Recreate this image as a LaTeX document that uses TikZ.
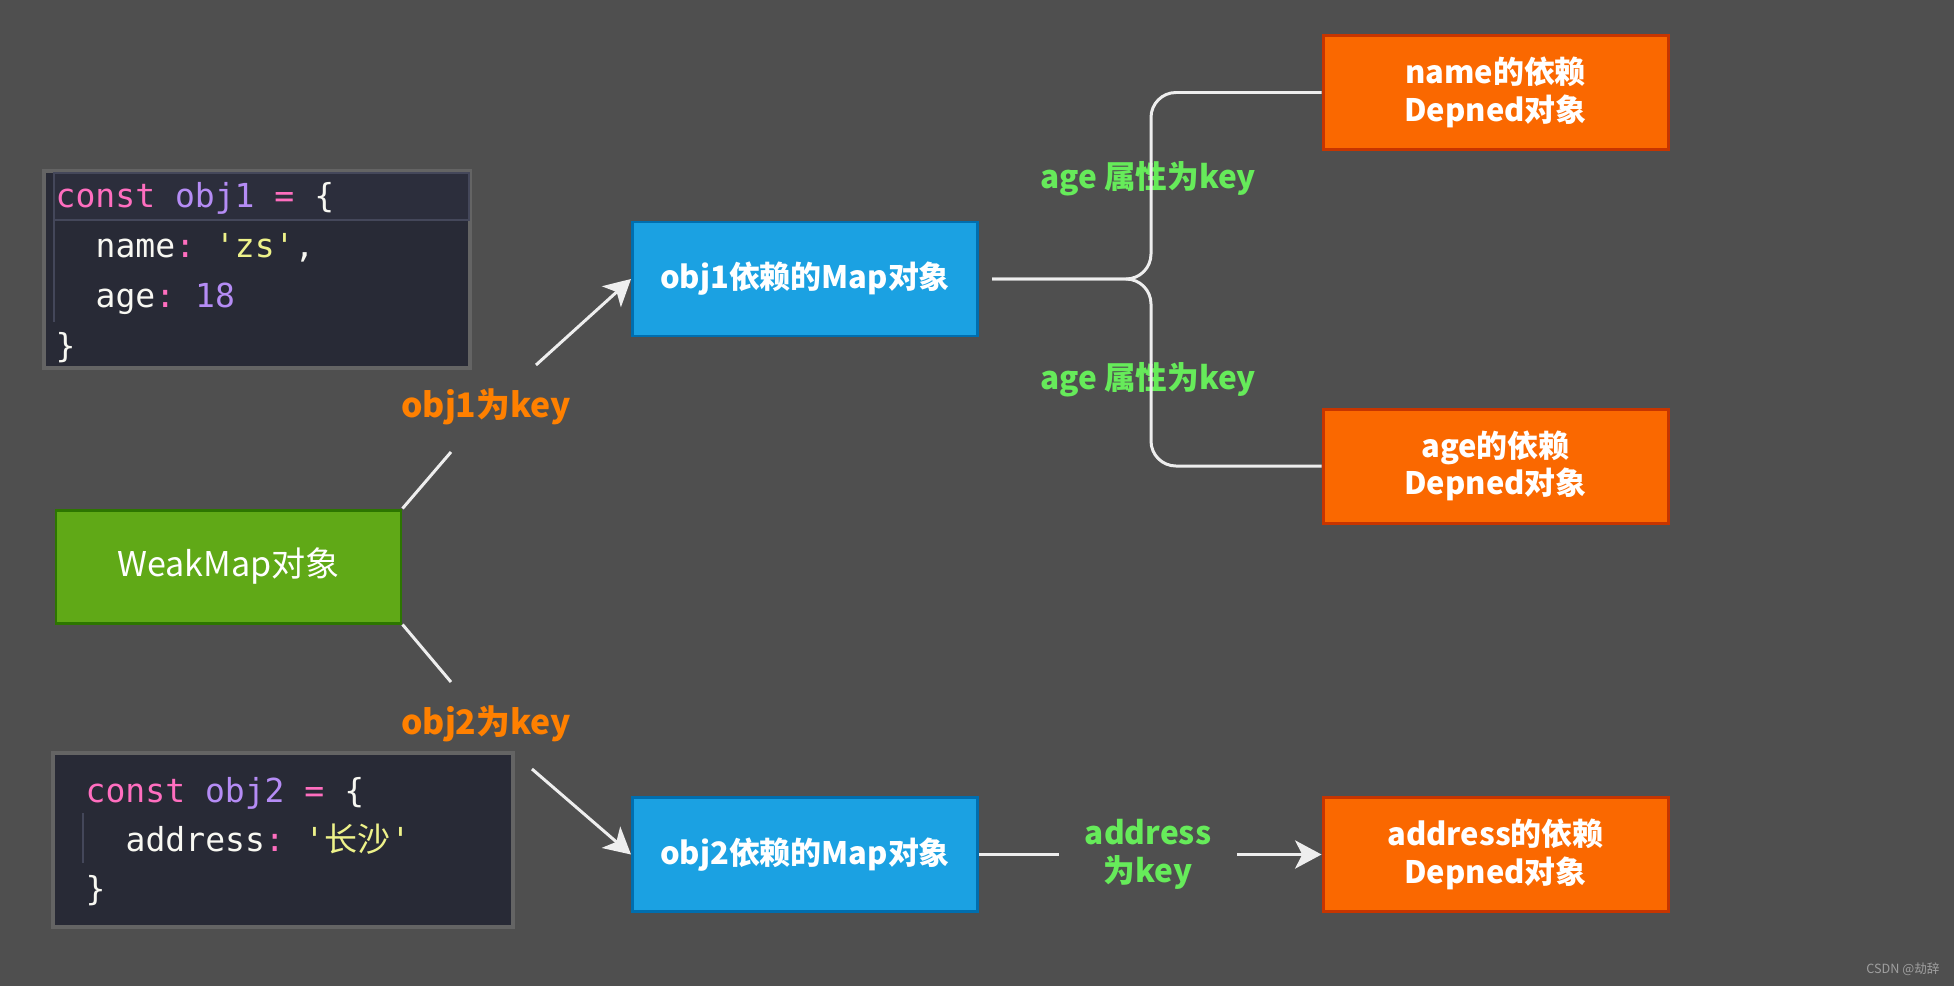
\documentclass[tikz,border=0pt]{standalone}
\usepackage{fontspec}
\setmainfont{Noto Sans CJK SC}
\setmonofont{DejaVu Sans Mono}
\newfontfamily\cjk{Noto Sans CJK SC}
\usetikzlibrary{arrows.meta,positioning}
\definecolor{bgc}{HTML}{4F4F4F}
\definecolor{codebg}{HTML}{282A36}
\definecolor{codehl}{HTML}{2C2E3C}
\definecolor{codeedge}{HTML}{44475A}
\definecolor{codewhite}{HTML}{F8F8F2}
\definecolor{kw}{HTML}{FF6EBF}
\definecolor{vr}{HTML}{B58CF5}
\definecolor{st}{HTML}{EEF28A}
\definecolor{wmgreen}{HTML}{60A917}
\definecolor{wmgreenline}{HTML}{2D7600}
\definecolor{mapblue}{HTML}{1BA1E2}
\definecolor{mapblueline}{HTML}{006EAF}
\definecolor{deporange}{HTML}{FA6800}
\definecolor{deporangeline}{HTML}{C73500}
\definecolor{keygreen}{HTML}{66EB5A}
\definecolor{keyorange}{HTML}{FF8000}
\definecolor{linec}{HTML}{EEEEEE}
\begin{document}
\begin{tikzpicture}[
  box/.style={draw,line width=0.85pt,minimum width=3.45cm,minimum height=1.14cm,inner sep=0,text=white,align=center},
  mapbox/.style={box,fill=mapblue,draw=mapblueline,font=\bfseries\fontsize{8.8}{10.7}\selectfont},
  depbox/.style={box,fill=deporange,draw=deporangeline,font=\bfseries\fontsize{8.8}{10.7}\selectfont},
  keylbl/.style={text=keygreen,font=\bfseries\fontsize{9}{10.8}\selectfont,align=center},
  objlbl/.style={text=keyorange,font=\bfseries\fontsize{9.6}{12}\selectfont},
  link/.style={draw=linec,line width=0.85pt},
  arr/.style={link,-{Stealth[length=7.5pt,width=8pt,inset=2pt]}},
  code/.style={anchor=base west,inner sep=0,text=codewhite,font=\ttfamily\fontsize{9.4}{11}\selectfont},
  guide/.style={draw=codeedge,line width=0.6pt},
  halo/.style={draw=bgc!88!white,line width=1.2pt}
]
\fill[bgc] (0,0) rectangle (19.54,9.86);
\useasboundingbox (0,0) rectangle (19.54,9.86);

% code of obj1
\fill[codebg,halo] (0.44,6.18) rectangle (4.70,8.15);
\draw[guide,fill=codehl] (0.54,7.66) rectangle (4.69,8.13);
\draw[guide] (0.54,7.66) -- (0.54,6.64);
\node[code] (c1a) at (0.55,7.79) {\textcolor{kw}{const} \textcolor{vr}{obj1} \textcolor{kw}{=} \{};
\node[code] (c1b) at (0.95,7.29) {name\textcolor{kw}{:} \textcolor{st}{'zs'},};
\node[code] (c1c) at (0.95,6.79) {age\textcolor{kw}{:} \textcolor{vr}{18}};
\node[code] (c1d) at (0.55,6.29) {\}};

% code of obj2
\fill[codebg,halo] (0.53,0.59) rectangle (5.13,2.33);
\draw[guide] (0.83,1.73) -- (0.83,1.23);
\node[code] (c2a) at (0.85,1.84) {\textcolor{kw}{const} \textcolor{vr}{obj2} \textcolor{kw}{=} \{};
\node[code] (c2b) at (1.25,1.35) {address\textcolor{kw}{:} \textcolor{st}{'{\cjk 长沙}'}};
\node[code] (c2c) at (0.85,0.86) {\}};

% boxes
\node[box,fill=wmgreen,draw=wmgreenline,minimum height=1.13cm,font=\fontsize{9.7}{11}\selectfont] (wm) at (2.285,4.195) {WeakMap对象};
\node[mapbox] (b1) at (8.05,7.07) {obj1依赖的Map对象};
\node[mapbox] (b2) at (8.05,1.315) {obj2依赖的Map对象};
\node[depbox] (o1) at (14.955,8.935) {name的依赖\\Depned对象};
\node[depbox] (o2) at (14.955,5.20) {age的依赖\\Depned对象};
\node[depbox] (o3) at (14.955,1.315) {address的依赖\\Depned对象};

% labels
\node[objlbl] (k1) at (4.86,5.79) {obj1为key};
\node[objlbl] (k2) at (4.86,2.62) {obj2为key};
\node[keylbl] (ag1) at (11.48,8.07) {age 属性为key};
\node[keylbl] (ag2) at (11.48,6.06) {age 属性为key};
\node[keylbl,inner ysep=0,inner xsep=0.25cm] (addr) at (11.48,1.315) {address\\为key};
\node[text=gray!75,font=\fontsize{3.6}{4}\selectfont] (mark) at (19.03,0.17) {CSDN @劫辞};

% connectors
\coordinate (k1a) at (4.51,5.34);
\coordinate (k1b) at (5.36,6.21);
\coordinate (k2a) at (4.51,3.04);
\coordinate (k2b) at (5.32,2.17);
\coordinate (fork) at (11.51,7.07);
\draw[link] (wm.north east) -- (k1a);
\draw[arr] (k1b) -- (b1.west);
\draw[link] (wm.south east) -- (k2a);
\draw[arr] (k2b) -- (b2.west);
\draw[link,rounded corners=0.25cm,shorten >=0.13cm] (o1.west) -| (fork) -- (b1.east);
\draw[link,rounded corners=0.25cm,shorten >=0.13cm] (o2.west) -| (fork) -- (b1.east);
\draw[link] (b2.east) -- (addr.west);
\draw[arr] (addr.east) -- (o3.west);
\end{tikzpicture}
\end{document}
